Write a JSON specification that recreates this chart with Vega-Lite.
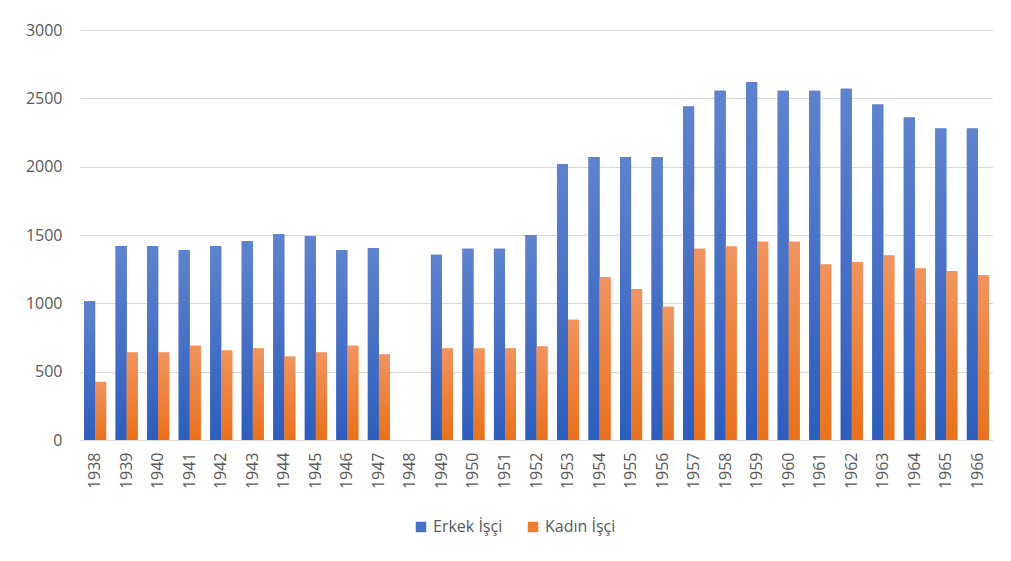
{
  "$schema": "https://vega.github.io/schema/vega-lite/v6.json",
  "autosize": "none",
  "width": 913,
  "height": 410,
  "padding": {"left": 80, "top": 30, "right": 18, "bottom": 121},
  "background": "white",
  "config": {
    "view": {"stroke": null},
    "font": "Open Sans",
    "axis": {"labelColor": "#595959", "labelFontSize": 16, "labelFont": "Open Sans"},
    "legend": {"labelColor": "#595959", "labelFontSize": 16, "labelFont": "Open Sans"}
  },
  "data": {
    "values": [
      {"year": "1938", "series": "Erkek İşçi", "value": 1015},
      {"year": "1938", "series": "Kadın İşçi", "value": 425},
      {"year": "1939", "series": "Erkek İşçi", "value": 1420},
      {"year": "1939", "series": "Kadın İşçi", "value": 640},
      {"year": "1940", "series": "Erkek İşçi", "value": 1420},
      {"year": "1940", "series": "Kadın İşçi", "value": 640},
      {"year": "1941", "series": "Erkek İşçi", "value": 1390},
      {"year": "1941", "series": "Kadın İşçi", "value": 690},
      {"year": "1942", "series": "Erkek İşçi", "value": 1420},
      {"year": "1942", "series": "Kadın İşçi", "value": 655},
      {"year": "1943", "series": "Erkek İşçi", "value": 1455},
      {"year": "1943", "series": "Kadın İşçi", "value": 670},
      {"year": "1944", "series": "Erkek İşçi", "value": 1505},
      {"year": "1944", "series": "Kadın İşçi", "value": 610},
      {"year": "1945", "series": "Erkek İşçi", "value": 1490},
      {"year": "1945", "series": "Kadın İşçi", "value": 640},
      {"year": "1946", "series": "Erkek İşçi", "value": 1390},
      {"year": "1946", "series": "Kadın İşçi", "value": 690},
      {"year": "1947", "series": "Erkek İşçi", "value": 1405},
      {"year": "1947", "series": "Kadın İşçi", "value": 625},
      {"year": "1948", "series": "Erkek İşçi", "value": null},
      {"year": "1948", "series": "Kadın İşçi", "value": null},
      {"year": "1949", "series": "Erkek İşçi", "value": 1355},
      {"year": "1949", "series": "Kadın İşçi", "value": 670},
      {"year": "1950", "series": "Erkek İşçi", "value": 1400},
      {"year": "1950", "series": "Kadın İşçi", "value": 670},
      {"year": "1951", "series": "Erkek İşçi", "value": 1400},
      {"year": "1951", "series": "Kadın İşçi", "value": 670},
      {"year": "1952", "series": "Erkek İşçi", "value": 1500},
      {"year": "1952", "series": "Kadın İşçi", "value": 685},
      {"year": "1953", "series": "Erkek İşçi", "value": 2020},
      {"year": "1953", "series": "Kadın İşçi", "value": 880},
      {"year": "1954", "series": "Erkek İşçi", "value": 2070},
      {"year": "1954", "series": "Kadın İşçi", "value": 1190},
      {"year": "1955", "series": "Erkek İşçi", "value": 2070},
      {"year": "1955", "series": "Kadın İşçi", "value": 1105},
      {"year": "1956", "series": "Erkek İşçi", "value": 2070},
      {"year": "1956", "series": "Kadın İşçi", "value": 975},
      {"year": "1957", "series": "Erkek İşçi", "value": 2440},
      {"year": "1957", "series": "Kadın İşçi", "value": 1400},
      {"year": "1958", "series": "Erkek İşçi", "value": 2555},
      {"year": "1958", "series": "Kadın İşçi", "value": 1415},
      {"year": "1959", "series": "Erkek İşçi", "value": 2620},
      {"year": "1959", "series": "Kadın İşçi", "value": 1450},
      {"year": "1960", "series": "Erkek İşçi", "value": 2555},
      {"year": "1960", "series": "Kadın İşçi", "value": 1450},
      {"year": "1961", "series": "Erkek İşçi", "value": 2555},
      {"year": "1961", "series": "Kadın İşçi", "value": 1285},
      {"year": "1962", "series": "Erkek İşçi", "value": 2570},
      {"year": "1962", "series": "Kadın İşçi", "value": 1300},
      {"year": "1963", "series": "Erkek İşçi", "value": 2455},
      {"year": "1963", "series": "Kadın İşçi", "value": 1350},
      {"year": "1964", "series": "Erkek İşçi", "value": 2360},
      {"year": "1964", "series": "Kadın İşçi", "value": 1255},
      {"year": "1965", "series": "Erkek İşçi", "value": 2280},
      {"year": "1965", "series": "Kadın İşçi", "value": 1235},
      {"year": "1966", "series": "Erkek İşçi", "value": 2280},
      {"year": "1966", "series": "Kadın İşçi", "value": 1205}
    ]
  },
  "encoding": {
    "x": {
      "field": "year",
      "type": "nominal",
      "title": null,
      "scale": {"paddingInner": 0.3, "paddingOuter": 0.13},
      "axis": {"labelAngle": -90, "labelAlign": "right", "labelBaseline": "middle", "ticks": false, "domainColor": "#d9d9d9", "labelPadding": 12}
    },
    "xOffset": {"field": "series", "type": "nominal", "sort": ["Erkek İşçi", "Kadın İşçi"], "scale": {"domain": ["Erkek İşçi", "Kadın İşçi"]}},
    "y": {
      "field": "value",
      "type": "quantitative",
      "title": null,
      "scale": {"domain": [0, 3000]},
      "axis": {"values": [0, 500, 1000, 1500, 2000, 2500, 3000], "format": "d", "domain": false, "ticks": false, "gridColor": "#d9d9d9", "labelPadding": 18}
    }
  },
  "layer": [
    {
      "mark": {"type": "bar", "invalid": null},
      "encoding": {
        "color": {
          "field": "series",
          "type": "nominal",
          "sort": ["Erkek İşçi", "Kadın İşçi"],
          "scale": {"domain": ["Erkek İşçi", "Kadın İşçi"], "range": ["#4472C4", "#ED7D31"]},
          "legend": {"title": null, "orient": "none", "legendX": 333, "legendY": 489, "direction": "horizontal", "symbolType": "square", "symbolSize": 110, "columnPadding": 22, "labelOffset": 4}
        }
      }
    },
    {
      "transform": [{"filter": "datum.series === 'Erkek İşçi'"}],
      "mark": {
        "type": "bar",
        "fill": {"gradient": "linear", "x1": 0, "y1": 0, "x2": 0, "y2": 1, "stops": [{"offset": 0, "color": "#5f83cd"}, {"offset": 1, "color": "#2d5dbd"}]}
      }
    },
    {
      "transform": [{"filter": "datum.series === 'Kadın İşçi'"}],
      "mark": {
        "type": "bar",
        "fill": {"gradient": "linear", "x1": 0, "y1": 0, "x2": 0, "y2": 1, "stops": [{"offset": 0, "color": "#f19460"}, {"offset": 1, "color": "#e8711c"}]}
      }
    }
  ]
}
